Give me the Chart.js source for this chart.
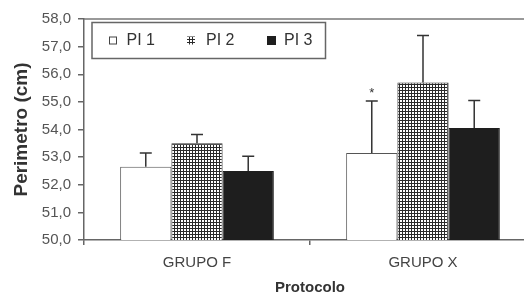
<!DOCTYPE html>
<html>
<head>
<meta charset="utf-8">
<script src="https://cdn.jsdelivr.net/npm/chart.js@4.4.0/dist/chart.umd.min.js"></script>
<style>
  html, body { margin: 0; padding: 0; background: #fff; overflow: hidden; }
  #chartCanvas { display: block; }
</style>
</head>
<body>
<canvas id="chartCanvas" width="546" height="297"></canvas>
<script>
// Data
const categories = ["GRUPO F", "GRUPO X"];
const seriesLabels = ["PI 1", "PI 2", "PI 3"];
const pi1Values = [52.65, 53.15];
const pi2Values = [53.5, 55.7];
const pi3Values = [52.5, 54.05];
const pi1Errors = [0.5, 1.88];
const pi2Errors = [0.32, 1.7];
const pi3Errors = [0.53, 1.0];
const pi1Marks = ["", "*"];
const yTickLabels = ["50,0", "51,0", "52,0", "53,0", "54,0", "55,0", "56,0", "57,0", "58,0"];

// grid pattern for PI 2
const makePattern = () => {
  const tile = document.createElement("canvas");
  tile.width = 3;
  tile.height = 3;
  const t = tile.getContext("2d");
  t.fillStyle = "#ffffff";
  t.fillRect(0, 0, 3, 3);
  t.fillStyle = "#2a2a2a";
  t.fillRect(0, 0, 3, 1);
  t.fillRect(0, 0, 1, 3);
  return document.getElementById("chartCanvas").getContext("2d").createPattern(tile, "repeat");
};
const gridPattern = makePattern();

const errorsBySeries = [pi1Errors, pi2Errors, pi3Errors];
const marksBySeries = [pi1Marks, ["", ""], ["", ""]];

// error bars (upward only) and significance marks
const errorBarPlugin = {
  id: "errorBars",
  afterDatasetsDraw: (chart) => {
    const ctx = chart.ctx;
    const yScale = chart.scales.y;
    ctx.save();
    ctx.strokeStyle = "#333";
    ctx.lineWidth = 1.5;
    chart.data.datasets.forEach((ds, di) => {
      const meta = chart.getDatasetMeta(di);
      meta.data.forEach((bar, i) => {
        const top = yScale.getPixelForValue(ds.data[i] + errorsBySeries[di][i]);
        ctx.beginPath();
        ctx.moveTo(bar.x, bar.y);
        ctx.lineTo(bar.x, top);
        ctx.moveTo(bar.x - 6, top);
        ctx.lineTo(bar.x + 6, top);
        ctx.stroke();
        const mark = marksBySeries[di][i];
        if (mark) {
          ctx.fillStyle = "#333";
          ctx.font = "13px 'Liberation Sans', Arial, sans-serif";
          ctx.textAlign = "center";
          ctx.textBaseline = "alphabetic";
          ctx.fillText(mark, bar.x, top - 4);
        }
      });
    });
    ctx.restore();
  },
};

// plot frame top line and boxed legend inside the plot area
const frameLegendPlugin = {
  id: "frameLegend",
  afterDraw: (chart) => {
    const ctx = chart.ctx;
    const area = chart.chartArea;
    ctx.save();
    ctx.strokeStyle = "#777";
    ctx.lineWidth = 1.5;
    ctx.beginPath();
    ctx.moveTo(area.left, area.top);
    ctx.lineTo(area.right, area.top);
    ctx.stroke();

    const bx = area.left + 8;
    const by = area.top + 3.5;
    ctx.fillStyle = "#fff";
    ctx.fillRect(bx, by, 233.5, 36);
    ctx.strokeStyle = "#666";
    ctx.strokeRect(bx, by, 233.5, 36);

    const cy = by + 18;
    const swatchX = [17, 95, 175];
    const textX = [34.5, 114, 192];
    chart.data.datasets.forEach((ds, di) => {
      const sx = bx + swatchX[di];
      if (di === 0) {
        ctx.fillStyle = "#fff";
        ctx.fillRect(sx, cy - 3.5, 7, 7);
        ctx.lineWidth = 1;
        ctx.strokeStyle = "#444";
        ctx.strokeRect(sx + 0.5, cy - 3.5, 7, 7);
      } else if (di === 1) {
        ctx.fillStyle = gridPattern;
        ctx.fillRect(sx, cy - 4, 8, 8);
      } else {
        ctx.fillStyle = "#1e1e1e";
        ctx.fillRect(sx, cy - 4.5, 9, 9);
      }
      ctx.fillStyle = "#333";
      ctx.font = "16px 'Liberation Sans', Arial, sans-serif";
      ctx.textAlign = "left";
      ctx.textBaseline = "middle";
      ctx.fillText(ds.label, bx + textX[di], cy + 0.5);
    });
    ctx.restore();
  },
};

const ctx = document.getElementById("chartCanvas").getContext("2d");
new Chart(ctx, {
  type: "bar",
  data: {
    labels: categories,
    datasets: [
      { label: seriesLabels[0], data: pi1Values, backgroundColor: "#ffffff", borderColor: "#555", borderWidth: 1 },
      { label: seriesLabels[1], data: pi2Values, backgroundColor: gridPattern, borderColor: "#333", borderWidth: 1 },
      { label: seriesLabels[2], data: pi3Values, backgroundColor: "#1e1e1e", borderColor: "#1e1e1e", borderWidth: 1 },
    ],
  },
  options: {
    responsive: false,
    animation: false,
    layout: { padding: { top: 19, right: 10, left: 0, bottom: 0 } },
    datasets: { bar: { barPercentage: 1, categoryPercentage: 0.68 } },
    plugins: {
      legend: { display: false },
      tooltip: { enabled: false },
    },
    scales: {
      x: {
        afterFit: (scale) => { scale.height = 57; },
        grid: { drawOnChartArea: false, tickLength: 5, color: "#666", lineWidth: 1.5 },
        border: { color: "#666", width: 1.5 },
        ticks: {
          color: "#444",
          padding: 9,
          font: { family: "'Liberation Sans', Arial, sans-serif", size: 15 },
        },
        title: {
          display: true,
          text: "Protocolo",
          color: "#333",
          padding: { top: 0, bottom: 0 },
          font: { family: "'Liberation Sans', Arial, sans-serif", size: 15, weight: "bold" },
        },
      },
      y: {
        min: 50,
        max: 58,
        afterFit: (scale) => { scale.width = 84; },
        grid: { drawOnChartArea: false, tickLength: 6, color: "#666", lineWidth: 1.5 },
        border: { color: "#666", width: 1.5 },
        ticks: {
          stepSize: 1,
          color: "#555",
          padding: 7,
          font: { family: "'Liberation Sans', Arial, sans-serif", size: 15 },
          callback: (value) => yTickLabels[Math.round(value - 50)],
        },
        title: {
          display: true,
          text: "Perimetro (cm)",
          color: "#333",
          padding: { top: 10, bottom: 0 },
          font: { family: "'Liberation Sans', Arial, sans-serif", size: 19, weight: "bold" },
        },
      },
    },
  },
  plugins: [errorBarPlugin, frameLegendPlugin],
});
</script>
</body>
</html>
